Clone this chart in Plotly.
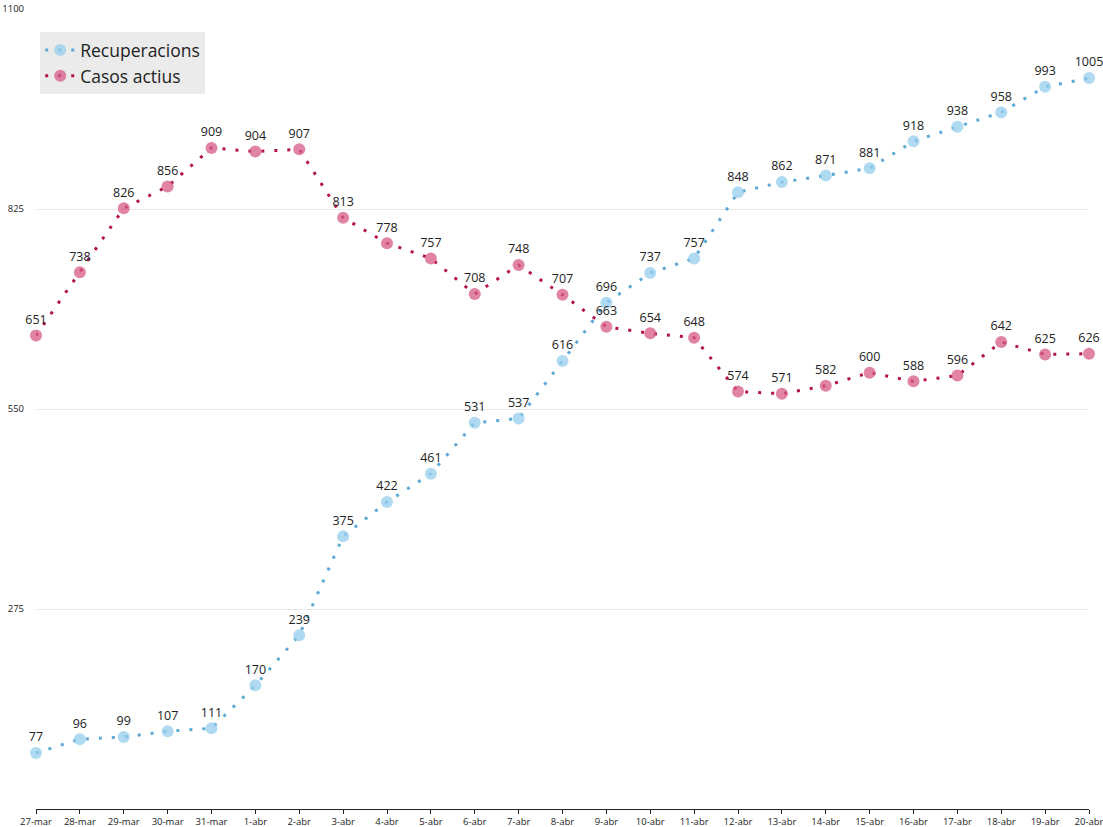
import plotly.graph_objects as go

dates = ["27-mar", "28-mar", "29-mar", "30-mar", "31-mar", "1-abr", "2-abr", "3-abr", "4-abr",
         "5-abr", "6-abr", "7-abr", "8-abr", "9-abr", "10-abr", "11-abr", "12-abr", "13-abr",
         "14-abr", "15-abr", "16-abr", "17-abr", "18-abr", "19-abr", "20-abr"]
recuperacions = [77, 96, 99, 107, 111, 170, 239, 375, 422, 461, 531, 537, 616, 696, 737, 757,
                 848, 862, 871, 881, 918, 938, 958, 993, 1005]
casos_actius = [651, 738, 826, 856, 909, 904, 907, 813, 778, 757, 708, 748, 707, 663, 654, 648,
                574, 571, 582, 600, 588, 596, 642, 625, 626]
y_ticks = [275, 550, 825, 1100]

FONT = "Open Sans"
fig = go.Figure()
fig.add_trace(go.Scatter(
    x=dates, y=recuperacions, name="Recuperacions", mode="lines+markers+text",
    line=dict(color="#5ea8d6", width=3, dash="3px,10px"),
    marker=dict(color="rgba(150,205,236,0.75)", size=12),
    text=[str(v) for v in recuperacions], textposition="top center",
    textfont=dict(size=12.5, color="#222222", family=FONT), cliponaxis=False,
))
fig.add_trace(go.Scatter(
    x=dates, y=casos_actius, name="Casos actius", mode="lines+markers+text",
    line=dict(color="#b3124a", width=3, dash="3px,10px"),
    marker=dict(color="rgba(215,90,135,0.75)", size=12),
    text=[str(v) for v in casos_actius], textposition="top center",
    textfont=dict(size=12.5, color="#222222", family=FONT), cliponaxis=False,
))
fig.update_layout(
    width=1103, height=827,
    margin=dict(l=36, r=14, t=9, b=18, autoexpand=False),
    plot_bgcolor="white", paper_bgcolor="white",
    font=dict(family=FONT, color="#222222"),
    showlegend=True,
    legend=dict(x=0.004, y=0.971, xanchor="left", yanchor="top",
                bgcolor="#ebebeb", font=dict(size=17.5, color="#222222", family=FONT),
                itemwidth=30, tracegroupgap=0),
    xaxis=dict(type="category", range=[0, 24], showgrid=False, automargin=False,
               showline=True, linecolor="#222222", linewidth=1,
               ticks="outside", ticklen=4, tickcolor="#222222",
               tickfont=dict(size=9.5, color="#222222", family=FONT)),
    yaxis=dict(range=[0, 1100], tickvals=y_ticks, showgrid=True, gridcolor="#e8e8e8",
               zeroline=False, showline=False, automargin=False, ticklabelstandoff=11,
               tickfont=dict(size=9.5, color="#222222", family=FONT)),
)
fig.write_html("out.html", config={"displayModeBar": False},
               post_script="document.body.style.margin='0';document.body.style.overflow='hidden';")
